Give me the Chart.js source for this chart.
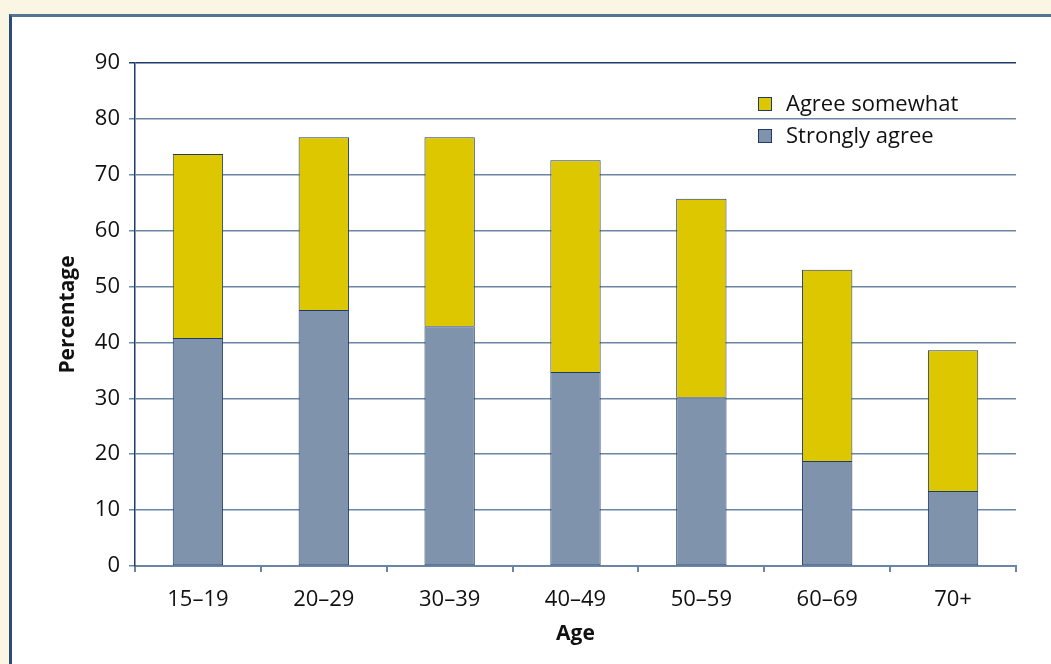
<!DOCTYPE html>
<html>
<head>
<meta charset="utf-8">
<script src="https://cdn.jsdelivr.net/npm/chart.js@4.4.1/dist/chart.umd.min.js"></script>
<style>
  html, body { margin: 0; padding: 0; background: #faf6e3; overflow: hidden; }
  body { width: 1051px; height: 664px; position: relative; }
  #panel {
    position: absolute; left: 9px; top: 14px;
    width: 1100px; height: 700px;
    background: #ffffff;
    border-left: 3px solid #2c4c74;
    border-top: 3px solid #577394;
  }
  #wrap { position: absolute; left: 0; top: 0; width: 1039px; height: 647px; }
</style>
</head>
<body>
<div id="panel"><div id="wrap"><canvas id="c" width="1039" height="647"></canvas></div></div>
<script>
// Share of respondents who agree, by age group
const categories = ['15\u201319', '20\u201329', '30\u201339', '40\u201349', '50\u201359', '60\u201369', '70+'];
const stronglyAgree = [40.8, 45.8, 42.9, 34.7, 30.2, 18.8, 13.4];
const agreeSomewhat = [32.9, 30.9, 33.8, 37.9, 35.5, 34.2, 25.2];
const yTicks = [0, 10, 20, 30, 40, 50, 60, 70, 80, 90];

const FONT = "'Open Sans', 'Noto Sans', sans-serif";
const NAVY = '#1e3c6a';
const GRID = '#6a86a4';

// Legend drawn inside the plot, top right, in reverse stacking order
const insideLegend = {
  id: 'insideLegend',
  afterDraw(chart) {
    const ctx = chart.ctx;
    const area = chart.chartArea;
    const x0 = area.left + 623;
    let y = area.top + 41;
    ctx.save();
    ctx.font = '22px ' + FONT;
    ctx.textBaseline = 'middle';
    ctx.textAlign = 'left';
    const ds = chart.data.datasets.slice().reverse();
    ds.forEach(d => {
      ctx.fillStyle = d.backgroundColor;
      ctx.fillRect(x0, y - 7, 14, 14);
      ctx.strokeStyle = NAVY;
      ctx.lineWidth = 1;
      ctx.strokeRect(x0 + 0.5, y - 6.5, 13, 13);
      ctx.fillStyle = '#111111';
      ctx.fillText(d.label, x0 + 28, y + 1);
      y += 32;
    });
    ctx.restore();
  }
};

new Chart(document.getElementById('c'), {
  type: 'bar',
  data: {
    labels: categories,
    datasets: [
      {
        label: 'Strongly agree',
        data: stronglyAgree,
        backgroundColor: '#7f93ac',
        borderColor: NAVY,
        borderWidth: 1,
        borderSkipped: false
      },
      {
        label: 'Agree somewhat',
        data: agreeSomewhat,
        backgroundColor: '#dcc700',
        borderColor: NAVY,
        borderWidth: 1,
        borderSkipped: 'start'
      }
    ]
  },
  options: {
    responsive: false,
    animation: false,
    devicePixelRatio: 1,
    layout: { padding: { left: 0, top: 46, right: 35, bottom: 0 } },
    datasets: { bar: { categoryPercentage: 1, barPercentage: 0.4 } },
    plugins: {
      legend: { display: false },
      tooltip: { enabled: false }
    },
    scales: {
      x: {
        stacked: true,
        afterFit(scale) { scale.height = 98; },
        grid: {
          offset: true,
          drawOnChartArea: false,
          drawTicks: true,
          tickLength: 6,
          color: GRID,
          lineWidth: 2
        },
        border: { display: true, color: GRID, width: 2 },
        ticks: {
          color: '#111111',
          font: { family: FONT, size: 22 },
          padding: 15
        },
        title: {
          display: true,
          text: 'Age',
          color: '#111111',
          font: { family: FONT, size: 21, weight: 'bold' },
          padding: { top: 0, bottom: 17 }
        }
      },
      y: {
        stacked: true,
        min: 0,
        max: 90,
        afterFit(scale) { scale.width = 123; },
        afterBuildTicks(scale) { scale.ticks = yTicks.map(v => ({ value: v })); },
        grid: {
          drawTicks: true,
          tickLength: 6,
          color: ctx => (ctx.tick && ctx.tick.value === 90 ? NAVY : GRID),
          lineWidth: 1.5
        },
        border: { display: true, color: NAVY, width: 1.5 },
        ticks: {
          color: '#111111',
          font: { family: FONT, size: 22 },
          padding: 9
        },
        title: {
          display: true,
          text: 'Percentage',
          color: '#111111',
          font: { family: FONT, size: 21, weight: 'bold' },
          padding: { top: 43, bottom: 0 }
        }
      }
    }
  },
  plugins: [insideLegend]
});
</script>
</body>
</html>
